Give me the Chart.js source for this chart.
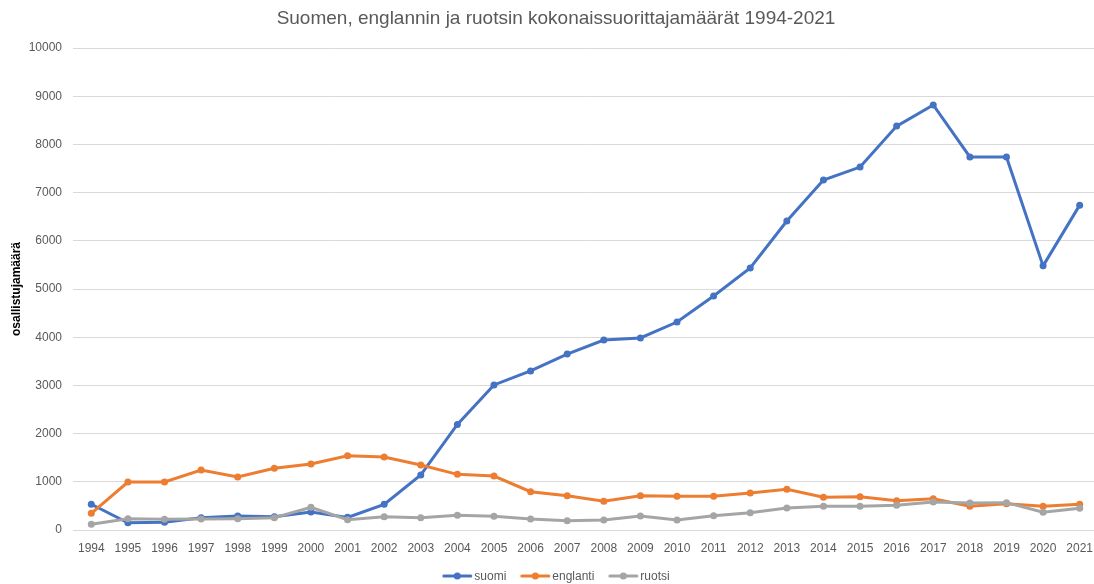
<!DOCTYPE html>
<html>
<head>
<meta charset="utf-8">
<script src="https://cdn.jsdelivr.net/npm/chart.js@4/dist/chart.umd.min.js"></script>
<style>
html,body{margin:0;padding:0;background:#fff;overflow:hidden;width:1094px;height:584px;}
#wrap{position:absolute;left:0;top:0;width:1112px;height:584px;}
</style>
</head>
<body>
<div id="wrap"><canvas id="c" width="1112" height="584"></canvas></div>
<script>
const years = ['1994','1995','1996','1997','1998','1999','2000','2001','2002','2003','2004','2005','2006','2007','2008','2009','2010','2011','2012','2013','2014','2015','2016','2017','2018','2019','2020','2021'];
const suomi = [535,150,160,255,290,276,373,262,533,1141,2190,3010,3300,3650,3940,3985,4315,4855,5435,6410,7260,7530,8380,8820,7740,7740,5480,6740];
const englanti = [346,995,995,1245,1100,1280,1370,1542,1515,1350,1155,1120,795,712,595,712,698,698,768,844,678,691,608,650,491,546,491,533];
const ruotsi = [118,235,222,228,235,255,470,214,276,255,305,284,228,193,207,290,207,297,360,456,491,491,512,581,560,567,367,450];
const seriesNames = ['suomi','englanti','ruotsi'];
const seriesColors = ['#4472C4','#ED7D31','#A5A5A5'];
const yTicks = [0,1000,2000,3000,4000,5000,6000,7000,8000,9000,10000];
const chartTitle = 'Suomen, englannin ja ruotsin kokonaissuorittajamäärät 1994-2021';
const yTitle = 'osallistujamäärä';

const FONT = "'Liberation Sans', Arial, sans-serif";

const headerLegend = {
  id: 'headerLegend',
  afterDraw(chart) {
    const ctx = chart.ctx;
    const cx = 556;
    ctx.save();
    // title
    ctx.font = '19px ' + FONT;
    ctx.fillStyle = '#595959';
    ctx.textAlign = 'center';
    ctx.textBaseline = 'middle';
    ctx.fillText(chartTitle, cx, 19);
    // legend
    ctx.font = '12px ' + FONT;
    ctx.textAlign = 'left';
    const iconW = 30, gapT = 2, gapI = 14;
    const widths = seriesNames.map(n => ctx.measureText(n).width);
    const total = widths.reduce((a, w) => a + iconW + gapT + w, 0) + gapI * (seriesNames.length - 1);
    let x = cx - total / 2;
    const y = 576;
    seriesNames.forEach((n, i) => {
      ctx.strokeStyle = seriesColors[i];
      ctx.lineWidth = 3;
      ctx.lineCap = 'round';
      ctx.beginPath(); ctx.moveTo(x + 1.5, y); ctx.lineTo(x + iconW - 1.5, y); ctx.stroke();
      ctx.fillStyle = seriesColors[i];
      ctx.beginPath(); ctx.arc(x + iconW / 2, y, 3.5, 0, Math.PI * 2); ctx.fill();
      ctx.fillStyle = '#595959';
      ctx.fillText(n, x + iconW + gapT, y + 0.5);
      x += iconW + gapT + widths[i] + gapI;
    });
    ctx.restore();
  }
};

const allData = [suomi, englanti, ruotsi];
const datasets = allData.map((d,i)=>({
  label: seriesNames[i],
  data: d,
  borderColor: seriesColors[i],
  backgroundColor: seriesColors[i],
  borderWidth: 3,
  pointRadius: 3.5,
  pointHoverRadius: 3.5,
  pointBorderWidth: 0,
  tension: 0,
  order: 3 - i
}));

new Chart(document.getElementById('c'), {
  type: 'line',
  data: { labels: years, datasets },
  plugins: [headerLegend],
  options: {
    responsive: false,
    animation: false,
    layout: { padding: { left: 0, right: 14, top: 48, bottom: 24 } },
    plugins: {
      title: { display: false },
      legend: { display: false },
      tooltip: { enabled: false }
    },
    scales: {
      x: {
        offset: true,
        grid: { display: false, drawTicks: false },
        border: { display: true, color: '#D9D9D9', width: 1 },
        ticks: { color: '#595959', font: { family: FONT, size: 12 }, padding: 11, maxRotation: 0, autoSkip: false },
        afterFit: (s) => { s.height = 30; }
      },
      y: {
        min: 0, max: 10000,
        afterBuildTicks: (s) => { s.ticks = yTicks.map(v=>({value:v})); },
        afterFit: (s) => { s.width = 73; },
        grid: { color: '#D9D9D9', drawTicks: false },
        border: { display: false },
        ticks: { color: '#595959', font: { family: FONT, size: 12 }, padding: 11, callback: (v) => String(v) },
        title: { display: true, text: yTitle, color: '#000', font: { family: FONT, size: 12, weight: 'bold' }, padding: { top: 9, bottom: 0 } }
      }
    }
  }
});
</script>
</body>
</html>
